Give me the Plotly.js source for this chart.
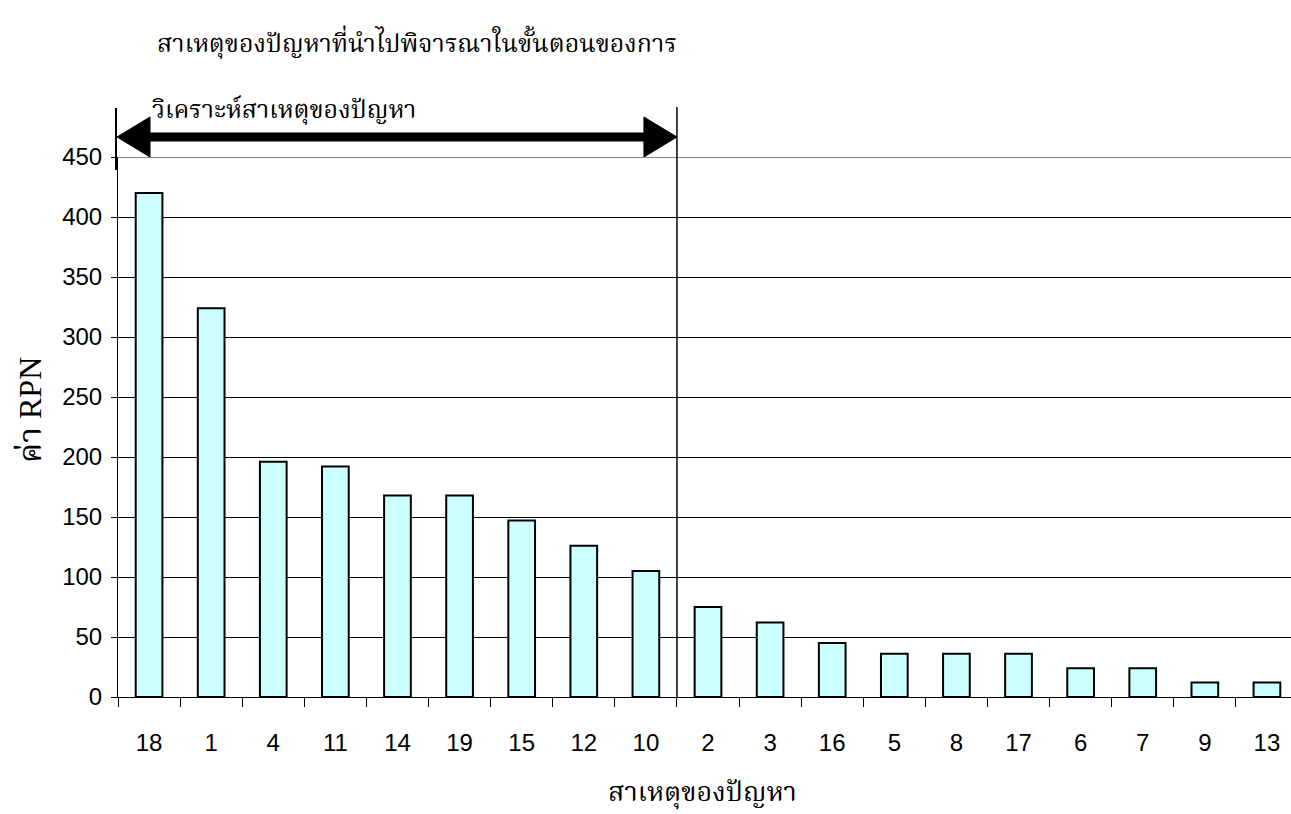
<!DOCTYPE html>
<html>
<head>
<meta charset="utf-8">
<script src="https://cdn.plot.ly/plotly-3.0.1.min.js"></script>
<style>html,body{margin:0;padding:0;background:#fff;overflow:hidden;}#chart{width:1298px;height:814px;}</style>
</head>
<body>
<div id="chart"></div>
<script>
const causes = ["18","1","4","11","14","19","15","12","10","2","3","16","5","8","17","6","7","9","13"];
const rpnValues = [420,324,196,192,168,168,147,126,105,75,62,45,36,36,36,24,24,12,12];
const yTickValues = [0,50,100,150,200,250,300,350,400,450];
const chartTitle = "สาเหตุของปัญหาที่นำไปพิจารณาในขั้นตอนของการ";
const arrowLabel = "วิเคราะห์สาเหตุของปัญหา";
const xTitle = "สาเหตุของปัญหา";
const yTitle = "ค่า RPN";
const selectedCount = 9;

const W = 1298, H = 814;
const L = 118, R = 0, T = 157, B = 117;
const plotH = H - T - B;
const py = y => (H - B - y) / plotH;   // pixel y -> paper
const px = x => (x - L) / (W - L - R);

const thaiFont = "'Liberation Serif', 'Noto Serif Thai', 'Noto Sans Thai', serif";
const numFont = "'Liberation Sans', Arial, sans-serif";
const splitX = selectedCount - 0.5;

const trace = {
  type: 'bar',
  x: causes,
  y: rpnValues,
  width: 0.43,
  marker: {color: '#CCFFFF', line: {color: '#000', width: 2}},
  hoverinfo: 'x+y'
};

const arrowY = py(137);
const shapes = [
  {type:'line', xref:'paper', yref:'y', x0:0, x1:1, y0:450, y1:450, line:{color:'#888', width:2}},
  {type:'line', xref:'x', yref:'paper', x0:splitX, x1:splitX, y0:0, y1:py(107), line:{color:'#000', width:1.5}},
  {type:'line', xref:'paper', yref:'paper', x0:px(116), x1:px(116), y0:py(108), y1:py(170), line:{color:'#000', width:2}},
  {type:'line', xref:'paper', yref:'paper', x0:px(145), x1:px(650), y0:arrowY, y1:arrowY, line:{color:'#000', width:9}},
  {type:'path', xref:'paper', yref:'paper', xsizemode:'pixel', ysizemode:'pixel', xanchor:px(117), yanchor:arrowY,
   path:'M 0 0 L 33 20 L 33 -20 Z', fillcolor:'#000', line:{color:'#000', width:1}},
  {type:'path', xref:'x', yref:'paper', xsizemode:'pixel', ysizemode:'pixel', xanchor:splitX, yanchor:arrowY,
   path:'M 0 0 L -33 20 L -33 -20 Z', fillcolor:'#000', line:{color:'#000', width:1}}
];

const annotations = [
  {text: chartTitle, xref:'paper', yref:'paper', x:px(155), y:py(42), xanchor:'left', yanchor:'middle',
   showarrow:false, font:{family:thaiFont, size:25, color:'#000'}},
  {text: arrowLabel, xref:'paper', yref:'paper', x:px(150), y:py(109), xanchor:'left', yanchor:'middle',
   showarrow:false, font:{family:thaiFont, size:25, color:'#000'}},
  {text: xTitle, xref:'paper', yref:'paper', x:px(702), y:py(793), xanchor:'center', yanchor:'middle',
   showarrow:false, font:{family:thaiFont, size:27, color:'#000'}},
  {text: yTitle, xref:'paper', yref:'paper', x:px(30), y:py(410), xanchor:'center', yanchor:'middle',
   textangle:-90, showarrow:false, font:{family:thaiFont, size:32, color:'#000'}}
];

const layout = {
  width: W, height: H,
  margin: {l:L, r:R, t:T, b:B, pad:0},
  paper_bgcolor:'#fff', plot_bgcolor:'#fff',
  showlegend:false,
  font: {family:numFont, size:24, color:'#000'},
  xaxis: {
    type:'category', categoryorder:'array', categoryarray: causes,
    showline:true, linecolor:'#000', linewidth:1,
    ticks:'outside', tickson:'boundaries', ticklen:9, tickcolor:'#000', tickwidth:1,
    showgrid:false, zeroline:false,
    tickfont:{family:numFont, size:24, color:'#000'},
    ticklabelstandoff: 24
  },
  yaxis: {
    range:[0,450], tickvals: yTickValues, ticktext: yTickValues.map(String),
    showline:true, linecolor:'#000', linewidth:1,
    ticks:'outside', ticklen:6, tickcolor:'#000',
    showgrid:true, gridcolor:'#000', gridwidth:1, zeroline:false,
    tickfont:{family:numFont, size:24, color:'#000'},
    ticklabelstandoff: 4
  },
  shapes: shapes,
  annotations: annotations
};

Plotly.newPlot('chart', [trace], layout, {displayModeBar:false, staticPlot:true});
</script>
</body>
</html>
